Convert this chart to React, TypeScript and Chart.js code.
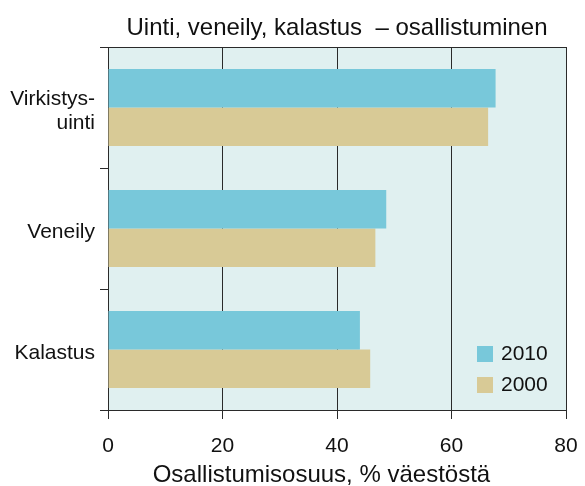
import React, { useEffect, useRef } from "react";
import { Chart, registerables } from "chart.js";

Chart.register(...registerables);

const TITLE = "Uinti, veneily, kalastus  – osallistuminen";
const X_TITLE = "Osallistumisosuus, % väestöstä";
const CATEGORIES: (string | string[])[] = [["Virkistys-", "uinti"], "Veneily", "Kalastus"];
const SERIES_LABELS = ["2010", "2000"];
const VALUES_2010 = [67.7, 48.6, 44.0];
const VALUES_2000 = [66.4, 46.7, 45.8];
const X_TICKS = [0, 20, 40, 60, 80];

const COLOR_2010 = "#78C8DA";
const COLOR_2000 = "#D8CA96";
const PLOT_BG = "#E0F0F0";
const LINE = "#2a2a2a";
const FONT = "'Liberation Sans', Arial, Helvetica, sans-serif";

const customPlugin = {
  id: "custom",
  beforeDraw(chart: any) {
    const { ctx, chartArea } = chart;
    ctx.save();
    ctx.fillStyle = PLOT_BG;
    ctx.fillRect(chartArea.left, chartArea.top, chartArea.right - chartArea.left, chartArea.bottom - chartArea.top);
    ctx.restore();
  },
  afterDraw(chart: any) {
    const { ctx, chartArea } = chart;
    ctx.save();
    ctx.strokeStyle = LINE;
    ctx.lineWidth = 1;
    ctx.beginPath();
    ctx.moveTo(chartArea.left, Math.round(chartArea.top) + 0.5);
    ctx.lineTo(chartArea.right, Math.round(chartArea.top) + 0.5);
    ctx.stroke();
    // legend
    const ds = chart.data.datasets;
    const bx = chartArea.right - 89;
    const tops = [chartArea.bottom - 64, chartArea.bottom - 33];
    ctx.font = `21px ${FONT}`;
    ctx.textBaseline = "middle";
    ctx.textAlign = "left";
    ds.forEach((d: any, i: number) => {
      ctx.fillStyle = d.backgroundColor;
      ctx.fillRect(bx, tops[i], 16, 16);
      ctx.fillStyle = "#111";
      ctx.fillText(d.label, bx + 24, tops[i] + 8.5);
    });
    // x-axis title
    ctx.textAlign = "center";
    ctx.font = `24px ${FONT}`;
    ctx.fillStyle = "#111";
    ctx.fillText(X_TITLE, chartArea.left + (chartArea.right - chartArea.left) * 0.466, 475);
    ctx.restore();
  },
};

export default function App() {
  const ref = useRef<HTMLCanvasElement | null>(null);
  useEffect(() => {
    if (!ref.current) return;
    const chart = new Chart(ref.current, {
      type: "bar",
      data: {
        labels: CATEGORIES,
        datasets: [
          { label: SERIES_LABELS[0], data: VALUES_2010, backgroundColor: COLOR_2010, borderWidth: 0 },
          { label: SERIES_LABELS[1], data: VALUES_2000, backgroundColor: COLOR_2000, borderWidth: 0 },
        ],
      },
      options: {
        indexAxis: "y",
        animation: false,
        responsive: false,
        devicePixelRatio: 1,
        layout: { padding: { left: 0, right: 19, top: 0, bottom: 0 } },
        datasets: { bar: { categoryPercentage: 0.636, barPercentage: 1 } },
        plugins: {
          legend: { display: false },
          tooltip: { enabled: false },
          title: {
            display: true,
            text: TITLE,
            fullSize: false,
            color: "#111",
            font: { family: FONT, size: 24, weight: "normal" },
            padding: { top: 14, bottom: 4.2 },
          },
        },
        scales: {
          x: {
            min: 0,
            max: 80,
            afterFit(scale: any) {
              scale.height = 76;
              scale.paddingLeft = 0;
              scale.paddingRight = 0;
            },
            afterBuildTicks(scale: any) {
              scale.ticks = X_TICKS.map((v) => ({ value: v }));
            },
            grid: { color: LINE, lineWidth: 1, drawTicks: true, tickLength: 9, tickColor: LINE },
            border: { display: true, color: LINE, width: 1 },
            ticks: { color: "#111", font: { family: FONT, size: 21 }, padding: 15, maxRotation: 0 },
          },
          y: {
            afterFit(scale: any) {
              scale.width = 108;
              scale.paddingTop = 0;
              scale.paddingBottom = 0;
            },
            grid: { offset: true, drawOnChartArea: false, drawTicks: true, tickLength: 8, tickColor: LINE },
            border: { display: true, color: LINE, width: 1 },
            ticks: { color: "#111", font: { family: FONT, size: 21, lineHeight: 1.15 }, padding: 5, labelOffset: 4 },
          },
        },
      },
      plugins: [customPlugin],
    });
    return () => chart.destroy();
  }, []);
  return (
    <div style={{ position: "absolute", left: 0, top: 0, width: 585, height: 486, background: "#fff" }}>
      <canvas ref={ref} width={585} height={486} />
    </div>
  );
}
